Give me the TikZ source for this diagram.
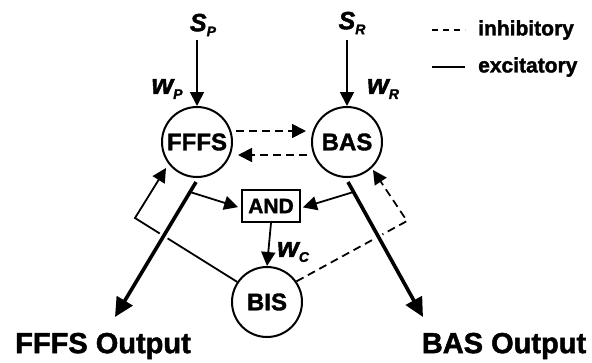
\documentclass[tikz,border=0pt]{standalone}
\usepackage{fontspec}
\setmainfont{Liberation Sans}[BoldFeatures={FakeBold=1.6},BoldItalicFeatures={FakeBold=1.6}]
\usetikzlibrary{arrows.meta,calc}
\newcommand{\mylbl}[3]{{\fontsize{#3}{#3}\selectfont #1}\raisebox{-5pt}{\fontsize{14}{14}\selectfont #2}}
\begin{document}
\begin{tikzpicture}[x=1pt,y=-1pt,
  circ/.style={circle,draw,line width=2pt,minimum size=70pt,inner sep=0pt,font=\bfseries\fontsize{24}{24}\selectfont},
  tri/.style={-{Triangle[length=14pt,width=14pt]}},
  bigtri/.style={-{Triangle[length=19pt,width=18pt]}},
  ln/.style={line width=1.8pt},
  thk/.style={line width=3.6pt},
  dsh/.style={dash pattern=on 8pt off 5pt},
  lab/.style={font=\bfseries\itshape, inner sep=0pt},
  txt/.style={font=\bfseries, inner sep=0pt},
]
\useasboundingbox (0,0) rectangle (592,362);

% nodes
\node[circ] (fffs) at (197,142) {FFFS};
\node[circ] (bas) at (347,142) {BAS};
\node[circ] (bis) at (267,302) {BIS};
\node[draw, line width=2pt, minimum width=58pt, minimum height=32pt, inner sep=0pt,
      font=\bfseries\fontsize{21}{21}\selectfont] (and) at (271,206) {AND};

% labels
\node[lab] (sp) at (203,25) {\mylbl{S}{P}{25}};
\node[lab] (sr) at (352,23) {\mylbl{S}{R}{25}};
\node[lab] (wp) at (167,89) {\mylbl{w}{P}{28}};
\node[lab] (wr) at (383,89) {\mylbl{w}{R}{28}};
\node[lab] (wc) at (293,252) {\mylbl{w}{C}{28}};

\node[txt, font=\bfseries\fontsize{29}{29}\selectfont] (fout) at (103,346) {FFFS Output};
\node[txt, font=\bfseries\fontsize{29}{29}\selectfont] (bout) at (504,346) {BAS Output};

% legend
\node[txt, anchor=west, font=\bfseries\fontsize{21}{21}\selectfont] (inh) at (478,30) {inhibitory};
\node[txt, anchor=west, font=\bfseries\fontsize{21}{21}\selectfont] (exc) at (478,67) {excitatory};
\coordinate (l1a) at (432,30); \coordinate (l1b) at (465,30);
\coordinate (l2a) at (432,67); \coordinate (l2b) at (465,67);
\draw[line width=1.3pt, dash pattern=on 6pt off 5pt] (l1a) -- (l1b);
\draw[line width=1.3pt] (l2a) -- (l2b);

% coordinates
\coordinate (spin) at (197,40);
\coordinate (srin) at (347,40);
\coordinate (fs) at (196,182);
\coordinate (fo) at (115,317);
\coordinate (bs) at (348,182);
\coordinate (bo) at (423,317);
\coordinate (fa) at ($(fs)!0.074!(fo)$);
\coordinate (ba) at ($(bs)!0.074!(bo)$);
\coordinate (cl) at (135,218);
\coordinate (fbtip) at (166,168);
\coordinate (cr) at (407,221);
\coordinate (bbtip) at (373,170);

% inputs
\draw[ln,tri] (spin) -- (fffs.north);
\draw[ln,tri] (srin) -- (bas.north);

% mutual inhibition
\draw[ln,tri,dsh] ([shift={(3,-11)}]fffs.east) -- ([shift={(-5,-11)}]bas.west);
\draw[ln,tri,dsh] ([shift={(-4,13)}]bas.west) -- ([shift={(5,13)}]fffs.east);

% AND
\draw[ln,tri,shorten >=3pt] (fa) -- ([yshift=-2pt]and.west);
\draw[ln,tri,shorten >=2pt] (ba) -- ([yshift=-2pt]and.east);
\draw[ln,tri] (and.south) -- (bis.north);

% BIS feedback
\draw[ln,tri] (bis.146) -- (cl) -- (fbtip);
\draw[ln,tri,dsh] (bis.35) -- (cr) -- (bbtip);

% outputs with gaps
\draw[white, line width=9pt] ($(fs)!0.3!(fo)$) -- ($(fs)!0.5!(fo)$);
\draw[white, line width=9pt] ($(bs)!0.3!(bo)$) -- ($(bs)!0.5!(bo)$);
\draw[thk,bigtri] (fs) -- (fo);
\draw[thk,bigtri] (bs) -- (bo);
\end{tikzpicture}
\end{document}
